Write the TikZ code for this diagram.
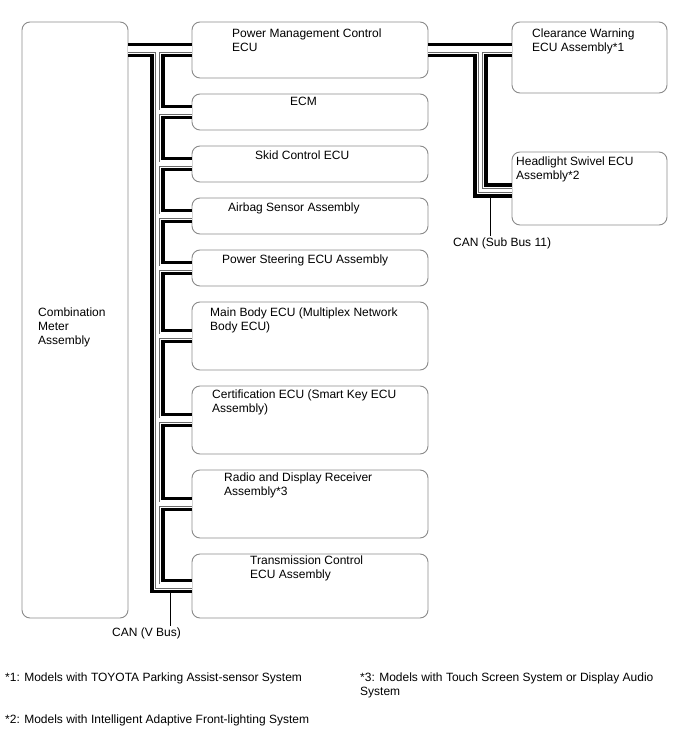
\documentclass[tikz,border=0pt]{standalone}
\usepackage{fontspec}
\setmainfont{Liberation Sans}
\usetikzlibrary{positioning,calc}
\definecolor{ecuEdge}{HTML}{8A8A8A}
\definecolor{busCore}{HTML}{6A6A6A}
\tikzset{
  ecubox/.style  = {draw=ecuEdge, line width=0.9pt, rounded corners=8pt,
                    inner sep=0pt, outer sep=0pt, minimum width=236pt},
  ecutxt/.style  = {anchor=north west, inner sep=0pt, align=left,
                    font=\fontsize{12}{14}\selectfont},
  canbus/.style  = {draw=black, line width=3.3pt, double=white, double distance=7.6pt,
                    postaction={draw=busCore, line width=0.8pt, double=white,
                                double distance=3.4pt}},
  tapline/.style = {draw=black, line width=0.8pt, shorten >=2pt},
}

\begin{document}
\begin{tikzpicture}[x=1pt, y=-1pt]
  \useasboundingbox (0,0) rectangle (688,755);

  % modules
  \node[ecubox, anchor=north west, minimum width=106pt, minimum height=596pt] (meter) at (22,22) {};
  \node[ecubox, right=64pt of meter.north east, anchor=north west, minimum height=56pt] (pmc) {};
  \node[ecubox, below=16pt of pmc.south west, anchor=north west, minimum height=36pt] (ecm) {};
  \node[ecubox, below=16pt of ecm.south west, anchor=north west, minimum height=36pt] (skid) {};
  \node[ecubox, below=16pt of skid.south west, anchor=north west, minimum height=36pt] (airbag) {};
  \node[ecubox, below=16pt of airbag.south west, anchor=north west, minimum height=36pt] (eps) {};
  \node[ecubox, below=16pt of eps.south west, anchor=north west, minimum height=68pt] (mainbody) {};
  \node[ecubox, below=16pt of mainbody.south west, anchor=north west, minimum height=68pt] (cert) {};
  \node[ecubox, below=16pt of cert.south west, anchor=north west, minimum height=68pt] (radio) {};
  \node[ecubox, below=16pt of radio.south west, anchor=north west, minimum height=64pt] (tcm) {};
  \node[ecubox, right=84pt of pmc.north east, anchor=north west, minimum width=155pt, minimum height=71pt] (cw) {};
  \node[ecubox, below=59pt of cw.south west, anchor=north west, minimum width=155pt, minimum height=73pt] (hl) {};

  % module names
  \node[ecutxt] (metertxt) at ([shift={(16,285.5)}]meter.north west) {Combination\\Meter\\Assembly};
  \node[ecutxt] (pmctxt) at ([shift={(40,6.5)}]pmc.north west) {Power Management Control\\ECU};
  \node[ecutxt] (ecmtxt) at ([shift={(98,2.5)}]ecm.north west) {ECM};
  \node[ecutxt] (skidtxt) at ([shift={(63,4.5)}]skid.north west) {Skid Control ECU};
  \node[ecutxt] (airbagtxt) at ([shift={(36,4.5)}]airbag.north west) {Airbag Sensor Assembly};
  \node[ecutxt] (epstxt) at ([shift={(30,4.5)}]eps.north west) {Power Steering ECU Assembly};
  \node[ecutxt] (mainbodytxt) at ([shift={(18,5.5)}]mainbody.north west) {Main Body ECU (Multiplex Network\\Body ECU)};
  \node[ecutxt] (certtxt) at ([shift={(20,3.5)}]cert.north west) {Certification ECU (Smart Key ECU\\Assembly)};
  \node[ecutxt] (radiotxt) at ([shift={(32,2.5)}]radio.north west) {Radio and Display Receiver\\Assembly*3};
  \node[ecutxt] (tcmtxt) at ([shift={(58,1.5)}]tcm.north west) {Transmission Control\\ECU Assembly};
  \node[ecutxt] (cwtxt) at ([shift={(20,6.5)}]cw.north west) {Clearance Warning\\ECU Assembly*1};
  \node[ecutxt] (hltxt) at ([shift={(4,4.5)}]hl.north west) {Headlight Swivel ECU\\Assembly*2};

  % bus trunks
  \coordinate (vtrunk) at (157.5,0);
  \coordinate (subtrunk) at (480.5,0);
  \coordinate (hltap) at ([yshift=-2pt]hl.west);

  % CAN (V Bus)
  \draw[canbus]
    (meter.east |- pmc.west) -- (pmc.west)
    (vtrunk |- pmc.west) -- (vtrunk |- tcm.west) -- (tcm.west)
    (vtrunk |- ecm.west) -- (ecm.west)
    (vtrunk |- skid.west) -- (skid.west)
    (vtrunk |- airbag.west) -- (airbag.west)
    (vtrunk |- eps.west) -- (eps.west)
    (vtrunk |- mainbody.west) -- (mainbody.west)
    (vtrunk |- cert.west) -- (cert.west)
    (vtrunk |- radio.west) -- (radio.west);

  % CAN (Sub Bus 11)
  \draw[canbus]
    (pmc.east) -- (cw.west |- pmc.east)
    (subtrunk |- pmc.east) -- (subtrunk |- hltap) -- (hltap);

  % bus labels
  \node[ecutxt] (vbuslbl) at (112,627.5) {CAN (V Bus)};
  \node[ecutxt] (subbuslbl) at (453,237.5) {CAN (Sub Bus 11)};
  \coordinate (vtap) at (170,593);
  \coordinate (subtap) at (490,197);
  \draw[tapline] (vtap) -- (vtap |- vbuslbl.north);
  \draw[tapline] (subtap) -- (subtap |- subbuslbl.north);

  % notes
  \node[ecutxt] (note1) at (5,672.5) {*1: Models with TOYOTA Parking Assist-sensor System};
  \node[ecutxt] (note3) at (360,672.5) {*3: Models with Touch Screen System or Display Audio\\System};
  \node[ecutxt] (note2) at (5,714.5) {*2: Models with Intelligent Adaptive Front-lighting System};
\end{tikzpicture}
\end{document}
